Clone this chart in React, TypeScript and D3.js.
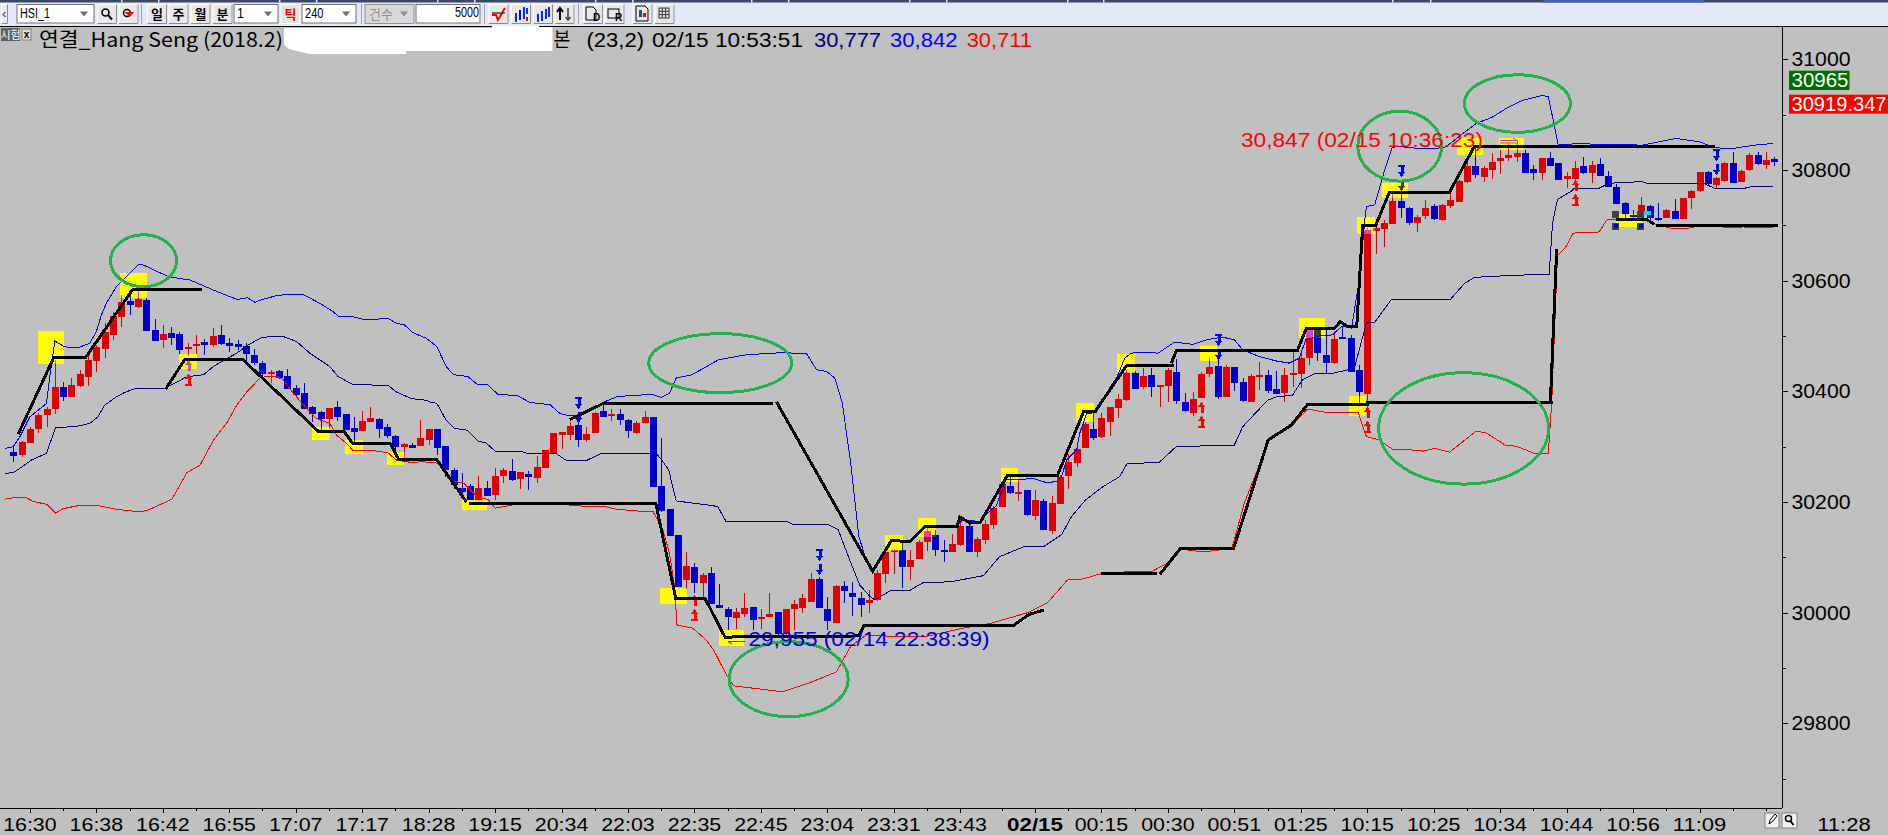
import React from "react";
import * as d3 from "d3";

// ---------- candles (index = bar number) ----------
const bodyTop = [
30290,30308,30332,30357,30368,30407,30408,30411,30431,30457,
30480,30507,30536,30561,30563,30567,30565,30511,30503,30505,
30503,30481,30485,30489,30500,30502,30487,30485,30482,30465,
30451,30435,30437,30428,30406,30397,30372,30363,30370,30372,
30359,30334,30346,30352,30350,30335,30319,30305,30303,30316,
30332,30332,30301,30258,30225,30229,30225,30225,30247,30258,
30256,30254,30251,30263,30294,30325,30327,30337,30339,30323,
30361,30365,30359,30359,30348,30343,30354,30354,30229,30188,
30141,30085,30083,30068,30072,30014,30007,30001,30009,30010,
29992,29998,30001,30007,30016,30027,30061,30061,30007,30048,
30048,30036,30027,30023,30071,30109,30113,30113,30095,30128,
30147,30140,30113,30125,30156,30157,30133,30160,30189,30233,
30229,30219,30222,30204,30202,30198,30246,30272,30296,30341,
30332,30352,30372,30386,30433,30433,30428,30430,30411,30439,
30435,30381,30386,30431,30444,30446,30444,30444,30417,30428,
30430,30430,30404,30430,30433,30460,30511,30511,30466,30495,
30499,30496,30439,30692,30695,30704,30744,30744,30731,30715,
30731,30735,30737,30746,30780,30807,30807,30804,30814,30822,
30827,30831,30831,30802,30822,30822,30813,30789,30804,30807,
30809,30811,30789,30769,30740,30719,30737,30735,30714,30728,
30726,30749,30762,30796,30796,30785,30813,30813,30798,30827,
30827,30818,30820];
const bodyBottom = [
30283,30285,30307,30332,30357,30368,30390,30390,30409,30426,
30455,30476,30502,30534,30556,30552,30509,30491,30493,30496,
30475,30477,30482,30484,30484,30485,30482,30480,30467,30451,
30431,30431,30424,30404,30393,30368,30359,30350,30350,30353,
30330,30326,30328,30344,30332,30319,30299,30300,30297,30301,
30312,30298,30258,30230,30219,30204,30203,30211,30213,30247,
30240,30242,30245,30244,30262,30289,30322,30321,30312,30312,
30325,30354,30357,30348,30328,30325,30343,30227,30184,30139,
30047,30059,30054,30054,30016,30009,29992,29991,29998,29987,
29989,29992,29962,29962,30007,30009,30020,30009,29985,29982,
30039,30029,30014,30018,30023,30070,30110,30083,30083,30097,
30127,30113,30112,30110,30122,30109,30110,30131,30159,30191,
30216,30215,30177,30175,30150,30148,30197,30247,30271,30298,
30316,30318,30345,30370,30384,30404,30408,30408,30408,30410,
30383,30365,30361,30388,30431,30390,30390,30415,30383,30381,
30426,30401,30395,30397,30430,30431,30460,30469,30451,30451,
30496,30435,30399,30396,30690,30693,30702,30731,30704,30704,
30717,30711,30710,30735,30742,30778,30791,30787,30800,30816,
30822,30823,30795,30795,30795,30807,30782,30784,30784,30795,
30795,30789,30769,30738,30720,30718,30719,30713,30710,30713,
30711,30711,30749,30762,30775,30773,30780,30776,30778,30800,
30811,30809,30814];
const highs = [
30300,30311,30336,30360,30372,30456,30416,30425,30438,30465,
30484,30523,30544,30574,30577,30583,30568,30531,30520,30516,
30507,30487,30502,30494,30514,30520,30496,30493,30487,30476,
30455,30438,30438,30441,30411,30415,30373,30364,30370,30382,
30359,30353,30364,30372,30352,30341,30321,30306,30307,30348,
30332,30332,30301,30261,30252,30233,30247,30238,30262,30262,
30278,30254,30256,30283,30294,30325,30327,30345,30360,30336,
30363,30375,30368,30368,30350,30347,30365,30354,30316,30188,
30141,30110,30090,30072,30083,30052,30010,30009,30036,30010,
30007,30036,30001,30007,30023,30034,30072,30065,30029,30050,
30057,30056,30038,30041,30077,30110,30115,30131,30113,30131,
30156,30150,30131,30142,30174,30162,30137,30168,30192,30237,
30246,30240,30222,30222,30206,30210,30249,30287,30309,30345,
30360,30360,30372,30395,30439,30436,30442,30442,30411,30442,
30458,30397,30399,30435,30462,30457,30448,30444,30424,30431,
30453,30439,30437,30442,30471,30472,30511,30511,30511,30508,
30518,30502,30448,30695,30701,30710,30758,30782,30733,30719,
30746,30738,30738,30762,30782,30818,30843,30807,30831,30836,
30848,30854,30836,30809,30822,30832,30813,30796,30816,30823,
30816,30822,30798,30775,30743,30728,30751,30737,30740,30730,
30748,30749,30764,30796,30799,30788,30814,30832,30800,30831,
30832,30832,30823];
const lows = [
30272,30282,30307,30325,30336,30359,30382,30390,30407,30409,
30435,30460,30493,30516,30538,30550,30509,30491,30478,30484,
30467,30464,30467,30465,30480,30484,30471,30475,30454,30447,
30420,30415,30423,30404,30390,30368,30344,30330,30332,30346,
30330,30308,30328,30344,30316,30316,30294,30276,30297,30301,
30303,30285,30246,30224,30213,30204,30201,30211,30204,30234,
30238,30224,30222,30234,30262,30289,30296,30312,30300,30309,
30324,30354,30347,30339,30316,30323,30343,30227,30182,30139,
30047,30043,30036,30027,30016,30009,29969,29971,29992,29969,
29971,29992,29957,29957,29969,29999,30020,30009,29969,29982,
30018,29994,29992,29999,30022,30053,30070,30044,30059,30097,
30112,30103,30091,30110,30121,30109,30101,30125,30152,30191,
30215,30202,30174,30168,30150,30142,30197,30224,30264,30298,
30312,30316,30319,30352,30383,30404,30405,30390,30372,30381,
30377,30363,30355,30388,30426,30387,30389,30401,30381,30381,
30402,30397,30395,30381,30408,30406,30448,30455,30433,30449,
30496,30435,30378,30366,30648,30661,30702,30714,30701,30688,
30711,30710,30708,30731,30742,30776,30785,30778,30784,30793,
30816,30814,30795,30782,30782,30807,30782,30767,30769,30793,
30776,30789,30769,30738,30710,30710,30719,30710,30708,30713,
30711,30711,30729,30761,30773,30767,30778,30776,30778,30798,
30809,30802,30807];
const fallingBars = [0,6,14,16,17,19,20,23,25,26,27,28,29,30,32,33,34,35,36,37,39,40,41,44,45,46,48,51,52,53,54,55,57,60,62,68,71,73,74,77,78,79,80,82,84,85,86,89,92,97,98,100,101,102,107,111,112,115,120,122,124,130,135,137,140,141,145,147,148,151,152,157,158,160,161,162,167,168,171,176,182,183,185,186,189,191,192,193,194,195,197,198,200,204,207,210,212];

// ---------- bands: [bar, price] ----------
const upperBand: [number, number][] = [[-1,30297],[0,30300],[.8,30318],[2,30354],[4,30378],[4.4,30427],[5,30491],[6,30482],[6.8,30479],[8,30480],[9.2,30487],[10,30508],[10.6,30538],[11.2,30559],[12.4,30589],[15.1,30630],[15.7,30628],[18.7,30607],[21.3,30601],[24.1,30583],[26.1,30571],[27,30566],[28.2,30569],[29.1,30561],[30,30566],[31.7,30573],[32.9,30575],[34.9,30575],[36.9,30559],[38.5,30544],[39.1,30536],[40.5,30536],[42.5,30529],[45.1,30532],[46.1,30523],[47.1,30520],[48.1,30506],[49.7,30496],[51,30481],[52.1,30445],[53,30430],[54.7,30427],[55.9,30412],[57.1,30412],[58.3,30395],[60.7,30392],[62.2,30380],[64.6,30376],[65.8,30360],[66.6,30357],[68.2,30357],[69.8,30369],[71,30380],[72.6,30390],[74.6,30393],[77,30394],[78,30389],[79,30397],[79.8,30424],[81.7,30430],[84.9,30457],[88.2,30466],[92.6,30470],[95.5,30468],[96.7,30439],[97.9,30436],[98.9,30424],[99.8,30379],[100.8,30271],[101.8,30137],[102.7,30095],[103.5,30077],[104.3,30099],[105.6,30131],[108,30131],[109.7,30153],[113.6,30157],[114.3,30168],[116.3,30165],[117.7,30186],[118.3,30192],[119.5,30240],[121.1,30240],[122.7,30243],[124.4,30235],[125.6,30237],[126.2,30246],[126.8,30276],[128,30294],[128.4,30325],[129.2,30360],[129.9,30361],[130.8,30372],[132,30406],[132.9,30427],[133.8,30460],[134.6,30469],[136.4,30471],[137.8,30469],[139.8,30489],[142,30485],[143.6,30493],[145.6,30498],[147,30493],[148,30475],[150,30463],[152,30455],[153.6,30451],[154.8,30460],[155.6,30493],[157.2,30500],[158.8,30502],[159.9,30517],[160.4,30517],[161.1,30514],[162.1,30607],[162.7,30710],[162.9,30734],[163.9,30737],[165,30795],[166,30840],[166.7,30843],[168.2,30840],[171,30838],[172.5,30842],[174,30860],[176.1,30884],[178,30895],[179.7,30911],[181.7,30926],[184.1,30935],[184.8,30932],[185.3,30896],[186,30845],[188.5,30848],[190.9,30846],[196.2,30845],[198.2,30851],[200.1,30857],[203,30851],[204.7,30841],[206.6,30838],[209.7,30845],[211.9,30848]];
const middleBand: [number, number][] = [[-1,30252],[0,30253],[.8,30261],[2.2,30276],[4,30288],[5.1,30335],[7.4,30336],[9.2,30342],[10.2,30354],[11,30375],[12.4,30390],[13.4,30398],[14.8,30406],[18.3,30406],[19.5,30415],[20.7,30425],[21.7,30428],[22.9,30430],[24.1,30445],[25.1,30454],[26.9,30469],[28.1,30482],[29.7,30496],[30.9,30499],[32.5,30499],[34.1,30490],[35.7,30469],[36.9,30457],[38.1,30445],[39.1,30427],[40.9,30412],[45.1,30411],[46.1,30399],[47.9,30387],[49.7,30384],[50.1,30381],[51,30378],[52.1,30348],[53.1,30333],[54.6,30330],[56,30309],[56.8,30308],[58,30292],[61,30292],[62,30287],[65.4,30287],[66.6,30275],[69,30275],[70.8,30288],[77.4,30288],[78.2,30273],[78.9,30258],[79.8,30202],[83.4,30195],[84.8,30192],[85.8,30165],[93.1,30165],[93.9,30159],[98.1,30159],[99.3,30150],[100.7,30095],[101.9,30050],[103.1,30030],[103.7,30023],[105.6,30040],[108,30041],[109.5,30054],[112.9,30056],[116.8,30067],[118.7,30101],[121.6,30119],[124,30119],[126.2,30141],[127.4,30174],[129.1,30204],[131.2,30228],[133.2,30246],[134.1,30270],[137.9,30271],[140,30300],[147,30303],[148,30336],[151,30384],[152,30390],[154,30393],[155.2,30421],[156.8,30433],[158.9,30433],[160.7,30439],[161.4,30439],[162.9,30524],[163.9,30525],[165.9,30566],[173,30566],[174.7,30595],[175.9,30606],[179.7,30609],[184.9,30612],[185.3,30704],[185.9,30747],[187.5,30761],[187.9,30767],[190.9,30767],[191.7,30773],[192.1,30776],[196.1,30779],[196.9,30775],[203.6,30775],[204.8,30767],[208.1,30766],[209.3,30770],[211.9,30770]];
const lowerBand: [number, number][] = [[-1,30205],[.4,30209],[1.4,30209],[2.4,30201],[4,30196],[5.1,30180],[6,30188],[8,30194],[10,30194],[12.4,30187],[14.8,30183],[16,30184],[19.1,30205],[20.9,30253],[22.5,30267],[24.1,30312],[25.7,30343],[26.9,30375],[28.1,30399],[29.7,30424],[30.5,30427],[31.7,30427],[32.5,30421],[33.7,30397],[35.3,30369],[36.5,30351],[38.1,30342],[38.9,30321],[40.1,30306],[40.9,30293],[43.3,30293],[45.1,30289],[46.1,30276],[48.1,30271],[49,30273],[51.3,30270],[52.5,30240],[54.2,30234],[55.8,30210],[57.2,30204],[58,30189],[60.2,30195],[62.2,30197],[66.2,30196],[67.8,30193],[71.2,30192],[72.6,30187],[75.8,30183],[77,30183],[78.2,30150],[79,30107],[79.6,30047],[79.9,29978],[81.8,29972],[83.4,29951],[84.3,29933],[85.8,29889],[86.7,29868],[92.6,29857],[95.8,29873],[99.1,29893],[100.8,29939],[102.7,29960],[106.1,29957],[109.9,29957],[114.3,29972],[117.7,29981],[122.1,30000],[124.5,30018],[126.9,30059],[128.8,30061],[130.8,30070],[134.1,30074],[137,30074],[139,30090],[140.4,30115],[143.3,30110],[146.7,30116],[148.2,30198],[150,30267],[151,30311],[153.8,30336],[155.8,30368],[158.4,30361],[161.9,30362],[162.9,30318],[164.3,30313],[166.2,30294],[167.7,30295],[169.8,30292],[171.1,30297],[172.9,30290],[176.1,30328],[177.3,30325],[179.7,30302],[180.9,30301],[183.1,30288],[184.8,30288],[185.2,30379],[185.9,30645],[186.9,30661],[187.8,30686],[190.9,30688],[191.9,30711],[196.4,30711],[197.8,30701],[199.8,30694],[201.4,30694],[202.6,30698],[205,30698],[206.6,30696],[208.2,30697],[211.9,30696]];

// ---------- black stair lines: [bar, price] ----------
const stairLines: [number, number][][] = [
  [[.6,30323],[4.9,30462],[8.75,30462],[14.37,30584],[22.74,30584]],
  [[18.34,30404],[20.66,30458],[27.6,30458],[36.7,30328],[39.8,30328],[40.9,30305],[45.4,30305],[46.4,30277],[50.95,30277],[54.56,30200]],
  [[54.87,30198],[77.34,30198],[79.75,30026],[83.27,30026],[85.68,29956],[101.77,29958],[102.37,29976],[120.4,29977],[122.3,29997],[124.1,30005]],
  [[130.9,30070],[137.7,30070]],
  [[138,30069],[140.5,30116],[146.9,30116],[151.07,30312],[153.84,30339],[155.86,30377],[163,30377],[163,30380],[185.4,30380]],
  [[185.05,30382],[185.8,30657]],
  [[67,30349],[71,30378],[91.46,30378]],
  [[91.87,30381],[103.45,30075],[105.74,30131],[107.95,30128],[109.75,30155],[113.6,30155],[113.96,30173],[115.2,30162],[116.4,30163],[119.66,30248],[125.7,30248],[128.84,30363],[130.5,30363]],
  [[130.2,30363],[134,30446],[139.7,30446]],
  [[139.4,30451],[140,30473],[154.56,30473],[155.64,30513],[159,30513],[159.74,30526],[160.65,30517],[161.73,30517],[162.45,30699],[163.98,30699],[165.67,30760],[172.9,30760],[175.9,30843],[204.86,30843]],
  [[192.95,30711],[196.56,30711],[197.56,30702]],
  [[197.76,30700],[212.4,30700]],
];

// ---------- highlight boxes: [fromBar, toBar, topPrice, bottomPrice] ----------
const yellowBoxes = [
  [2.97,6.1,30509,30449],[12.9,16.04,30614,30569],[19.94,22.1,30468,30440],[35.9,38.1,30336,30312],
  [39.9,42.1,30312,30287],[44.97,47,30290,30267],[54,57,30204,30186],[77.9,81.07,30045,30016],
  [84.9,88,29969,29940],[104.9,107.06,30141,30112],[108.9,111.04,30171,30137],[118.9,121,30262,30236],
  [127.9,130.05,30379,30345],[132.9,135,30467,30435],[142.9,144.96,30482,30455],[154.8,157.96,30533,30496],
  [160.85,162.9,30392,30355],[161.8,163.98,30715,30684],[164.8,167.9,30777,30749],[173.85,176.97,30858,30827],
  [178.8,181.9,30858,30836],[192.96,196.1,30720,30697],
];
// hand-drawn ellipses: [centerBar, centerPrice, radiusBars, radiusPrice]
const greenEllipses = [
  [15.68,30636,3.97,47],[85.1,30451,8.6,53.3],[93.34,29880,7.16,67.8],
  [166.9,30843,5.05,63.2],[181.07,30920,6.38,52],[174.6,30333,10.23,100.6],
];
// signal arrows: anchor is the top of the pair
const buySignals: [number, number][] = [[21,30457],[82,30032],[143,30381],[163,30372],[188,30782]];
const sellSignals: [number, number][] = [[68,30390],[97,30115],[145,30504],[167,30809],[205,30838]];

const timeLabels = ["16:30","16:38","16:42","16:55","17:07","17:17","18:28","19:15","20:34","22:03","22:35","22:45","23:04","23:31","23:43","02/15","00:15","00:30","00:51","01:25","10:15","10:25","10:34","10:44","10:56","11:09"];
const timeLabelBars = [2,10,18,26,34,42,50,58,66,74,82,90,98,106,114,123,131,139,147,155,163,171,179,187,195,203];
const minorTickBars = [6,14,22,30,38,46,54,62,70,78,86,94,102,110,119,127,135,143,151,159,167,175,183,191,199,207,211];
const priceLabels = [31000,30800,30600,30400,30200,30000,29800];
const priceMinor = [30900,30700,30500,30300,30100,29900,29700];

const x = d3.scaleLinear().domain([0, 212]).range([13.3, 1774.3]);
const y = d3.scaleLinear().domain([31000, 29800]).range([59.3, 723.4]);
const RED = "#e00000", BLUE = "#0000cc", BG = "#c0c0c0";
const FONT = "'Liberation Sans', sans-serif";
const KR = "'Noto Sans CJK KR', sans-serif";
const pathOf = d3.line<[number, number]>().x(d => x(d[0])).y(d => y(d[1]));

const falling = new Set(fallingBars);
const boxes = yellowBoxes.map(b => ({ x0: Math.round(x(b[0])), x1: Math.round(x(b[1])), y0: Math.round(y(b[2])), y1: Math.round(y(b[3])) }));

function inBox(px: number, py: number) {
  return boxes.some(b => px >= b.x0 && px <= b.x1 && py >= b.y0 && py <= b.y1);
}

function T({ tx, ty, len, size = 20, fill = "#000", weight = "normal", family = FONT, anchor = "start", children }: any) {
  return (
    <text x={tx} y={ty} fontSize={size} fill={fill} fontWeight={weight} fontFamily={family} textAnchor={anchor}
      textLength={len} lengthAdjust={len ? "spacingAndGlyphs" : undefined}>{children}</text>
  );
}

function Candles() {
  return (
    <g shapeRendering="crispEdges">
      {bodyTop.map((t, i) => {
        const cx = Math.round(x(i));
        const yt = Math.round(y(t));
        const yb = Math.max(Math.round(y(bodyBottom[i])), yt + 2);
        const c = falling.has(i) ? BLUE : RED;
        return (
          <g key={i}>
            <rect x={cx} y={Math.round(y(highs[i]))} width={1} height={Math.max(1, Math.round(y(lows[i])) - Math.round(y(highs[i])))} fill={c} />
            <rect x={cx - 3} y={yt} width={7} height={yb - yt} fill={c} />
          </g>
        );
      })}
    </g>
  );
}

// where a candle lies over a highlight box the old screen mixes the colours
function CandleBoxMix() {
  const out: React.ReactNode[] = [];
  bodyTop.forEach((t, i) => {
    const cx = Math.round(x(i));
    const c = falling.has(i) ? "#404018" : "#e040c0";
    boxes.forEach((b, k) => {
      if (cx + 3 < b.x0 || cx - 3 > b.x1) return;
      const y0 = Math.max(Math.round(y(t)), b.y0), y1 = Math.min(Math.round(y(bodyBottom[i])), b.y1);
      if (y1 > y0) out.push(<rect key={`b${i}-${k}`} x={Math.max(cx - 3, b.x0)} y={y0} width={Math.min(cx + 4, b.x1) - Math.max(cx - 3, b.x0)} height={y1 - y0} fill={c} />);
      const w0 = Math.max(Math.round(y(highs[i])), b.y0), w1 = Math.min(Math.round(y(lows[i])), b.y1);
      if (w1 > w0 && cx >= b.x0 && cx <= b.x1) out.push(<rect key={`w${i}-${k}`} x={cx} y={w0} width={1} height={w1 - w0} fill={c} />);
    });
  });
  return <g shapeRendering="crispEdges">{out}</g>;
}

function UpArrow({ cx, top, foot, color }: any) {
  return (
    <g fill={color} shapeRendering="crispEdges">
      <path d={`M${cx + 0.5} ${top}L${cx + 4} ${top + 4.5}L${cx - 3} ${top + 4.5}Z`} />
      <rect x={cx - 0.5} y={top + 4} width={3} height={7} />
      {foot && <rect x={cx - 3} y={top + 10} width={7} height={2} />}
    </g>
  );
}
function DownArrow({ cx, top, bar, color }: any) {
  return (
    <g fill={color} shapeRendering="crispEdges">
      {bar && <rect x={cx - 3} y={top} width={7} height={2} />}
      <rect x={cx - 0.5} y={top + 1} width={3} height={7} />
      <path d={`M${cx + 0.5} ${top + 12}L${cx + 4} ${top + 7}L${cx - 3} ${top + 7}Z`} />
    </g>
  );
}
function Signals() {
  return (
    <g>
      {buySignals.map(([b, p]) => {
        const cx = Math.round(x(b)), top = Math.round(y(p));
        return (
          <g key={b}>
            <UpArrow cx={cx} top={top} color={inBox(cx, top + 5) ? "#c050c8" : "#ff0000"} />
            <UpArrow cx={cx} top={top + 14} foot color="#ff0000" />
          </g>
        );
      })}
      {sellSignals.map(([b, p]) => {
        const cx = Math.round(x(b)), top = Math.round(y(p));
        return (
          <g key={b}>
            <DownArrow cx={cx} top={top} bar color="#0000ff" />
            <DownArrow cx={cx} top={top + 14} color={inBox(cx, top + 20) ? "#404040" : "#0000ff"} />
          </g>
        );
      })}
    </g>
  );
}

function Btn({ x0, w, children }: any) {
  return (
    <g>
      <rect x={x0} y={4.5} width={w} height={19} fill="#e8e8e8" stroke="#ffffff" />
      <path d={`M${x0 + w} ${4.5}V${23.5}H${x0}`} fill="none" stroke="#8a8a8a" />
      {children}
    </g>
  );
}
function Combo({ x0, w, label, color = "#000", fill = "#fff", right = false }: any) {
  return (
    <g>
      <rect x={x0} y={4.5} width={w} height={18.5} fill={fill} stroke="#707070" />
      {label && <T tx={x0 + 3} ty={18} size={14} fill={color} len={label.length * 5.8 + 1}>{label}</T>}
      {!right && <path d={`M${x0 + w - 14} 11.5h8l-4 5z`} fill="#707070" />}
    </g>
  );
}

function Toolbar() {
  const letter = (x0: number, s: string, fill = "#000") => (
    <Btn x0={x0} w={19} key={x0}><T tx={x0 + 9.5} ty={19} size={13} weight="bold" family={KR} anchor="middle" fill={fill}>{s}</T></Btn>
  );
  return (
    <g>
      <rect x={0} y={0} width={1888} height={27} fill="#e3e9f8" />
      <rect x={0} y={0} width={1888} height={2.5} fill="#3c4668" />
      <rect x={1543} y={0} width={161} height={2.5} fill="#4060a8" />
      {[121, 158, 279, 316, 437, 474, 595, 632, 751, 788, 909, 946, 1067, 1103, 1392, 1430].map(v => (
        <rect key={v} x={v} y={0} width={1.5} height={2.5} fill="#e3e9f8" />
      ))}
      <rect x={0} y={26} width={1888} height={1} fill="#000" />
      <Btn x0={1.5} w={6}><path d="M5.5 12l-2.5 2.5l2.5 2.5" fill="none" stroke="#000" /></Btn>
      <Combo x0={17} w={77} label="HSI_1" />
      <Btn x0={97.5} w={19}>
        <circle cx={105.5} cy={12.5} r={3.5} fill="none" stroke="#000" strokeWidth={1.6} />
        <path d="M108 15l4 4.5" stroke="#000" strokeWidth={2} />
      </Btn>
      <Btn x0={119} w={19}>
        <circle cx={127} cy={13} r={3.5} fill="none" stroke="#000" strokeWidth={1.4} />
        <path d="M124 12h10l-4 5l-2-2z" fill="#ff0000" />
      </Btn>
      {letter(147.5, "일")}
      {letter(169, "주")}
      {letter(191, "월")}
      {letter(213, "분")}
      <Combo x0={234} w={44} label="1" />
      <rect x={281} y={4.5} width={19} height={19} fill="#dfeadf" stroke="#ffffff" />
      <T tx={290.5} ty={19} size={13} weight="bold" family={KR} anchor="middle" fill="#ff0000">틱</T>
      <Combo x0={302} w={54} label="240" />
      <rect x={365} y={4.5} width={49} height={19} fill="#d8d8d8" stroke="#909090" />
      <T tx={369} ty={18.5} size={13} family={KR} fill="#909090">건수</T>
      <path d="M400 11.5h8l-4 5z" fill="#909090" />
      <rect x={416} y={4.5} width={64} height={18.5} fill="#fff" stroke="#707070" />
      <T tx={479} ty={17} size={14} anchor="end" len={24}>5000</T>
      {[141, 361, 484, 578].map(v => <rect key={v} x={v} y={4} width={1} height={20} fill="#a0a0a0" />)}
      <Btn x0={489} w={19}><path d="M492 15h4l2 5l7-12" fill="none" stroke="#ff0000" strokeWidth={2} /><path d="M492 13h13" stroke="#404040" strokeWidth={1.5} /></Btn>
      <Btn x0={511.5} w={19}>
        {[515, 519, 523, 526].map((v, k) => <rect key={v} x={v} y={[13, 10, 7, 8][k]} width={2} height={[9, 10, 12, 6][k]} fill={k === 1 ? "#0000ff" : "#0030e0"} />)}
        <rect x={526} y={17} width={2} height={4} fill="#ff0000" />
      </Btn>
      <Btn x0={533.5} w={19}>
        {[537, 541, 545, 548].map((v, k) => <rect key={v} x={v} y={[14, 11, 9, 7][k]} width={2} height={[8, 10, 10, 10][k]} fill="#0030e0" />)}
      </Btn>
      <Btn x0={555} w={19}>
        <path d="M560 20V9M557 12l3-4l3 4" fill="none" stroke="#000" strokeWidth={2} />
        <path d="M568 8v12M565.5 17l2.5 3l2.5-3" fill="none" stroke="#404040" strokeWidth={1.5} />
      </Btn>
      <Btn x0={583.4} w={19}>
        <path d="M586 7h7l3 3v10h-10z" fill="none" stroke="#000" />
        <T tx={593} ty={21} size={10} weight="bold">D</T>
      </Btn>
      <Btn x0={605} w={19}>
        <rect x={608} y={9} width={11} height={9} fill="none" stroke="#000" />
        <T tx={615} ty={21} size={10} weight="bold">R</T>
      </Btn>
      <Btn x0={633} w={19}>
        <path d="M636 6h9l3 3v12h-12z" fill="none" stroke="#000" />
        <rect x={639} y={10} width={3} height={7} fill="#006080" />
        <rect x={643} y={13} width={3} height={4} fill="#ff0000" />
      </Btn>
      <Btn x0={655} w={19}>
        <rect x={659} y={8} width={10} height={10} fill="none" stroke="#303030" />
        <path d="M659 11.3h10M659 14.6h10M662.3 8v10M665.6 8v10" stroke="#303030" />
      </Btn>
    </g>
  );
}

function Header() {
  return (
    <g>
      <rect x={1} y={28} width={19} height={13} fill="#606060" />
      <T tx={10.5} ty={38.5} size={11} fill="#fff" family={KR} anchor="middle">시험</T>
      <rect x={22} y={29} width={9} height={11} fill="#e0e0e0" stroke="#808080" />
      <T tx={26.5} ty={38} size={10} weight="bold" anchor="middle">x</T>
      <T tx={39} ty={46.5} family={KR} len={244}>연결_Hang Seng (2018.2)</T>
      <path d="M284 28H492V26H539V27H552.5V51H406V54H309L289 49L284 45Z" fill="#fff" />
      <T tx={553.5} ty={46.5} family={KR} len={17}>본</T>
      <T tx={586.5} ty={46.5} len={57.5}>(23,2)</T>
      <T tx={652} ty={46.5} len={151}>02/15 10:53:51</T>
      <T tx={814} ty={46.5} len={67} fill="#000080">30,777</T>
      <T tx={890} ty={46.5} len={67.5} fill="#0000ff">30,842</T>
      <T tx={966.7} ty={46.5} len={65.3} fill="#ff0000">30,711</T>
    </g>
  );
}

function Axes() {
  return (
    <g>
      <g shapeRendering="crispEdges">
        <rect x={1781.5} y={27} width={1} height={781} fill="#000" />
        <rect x={0} y={808} width={1782} height={1} fill="#000" />
        {priceLabels.map(p => <rect key={p} x={1782} y={Math.round(y(p))} width={6} height={1} fill="#000" />)}
        {priceMinor.map(p => <rect key={p} x={1782} y={Math.round(y(p))} width={4} height={1} fill="#000" />)}
        {timeLabelBars.map(b => <rect key={b} x={Math.round(x(b))} y={808} width={1} height={5} fill="#000" />)}
        {minorTickBars.map(b => <rect key={b} x={Math.round(x(b))} y={808} width={1} height={3} fill="#000" />)}
      </g>
      {priceLabels.map(p => (
        <T key={p} tx={1791.5} ty={y(p) + 7} len={59}>{p}</T>
      ))}
      {timeLabels.map((t, k) => (
        <T key={t} tx={x(timeLabelBars[k])} ty={830.7} size={18.5} len={t === "02/15" ? 56 : 53.5} anchor="middle" weight={t === "02/15" ? "bold" : "normal"}>{t}</T>
      ))}
      <T tx={1844} ty={830.7} size={18.5} len={53.5} anchor="middle">11:28</T>
      <rect x={1789} y={70.7} width={60.5} height={19.3} fill="#007000" />
      <T tx={1791.5} ty={87.3} len={57} fill="#fff">30965</T>
      <rect x={1789} y={94.7} width={99} height={19} fill="#ff0000" />
      <T tx={1791.5} ty={111} len={95} fill="#fff">30919.347</T>
      <rect x={1765} y={813} width={14} height={15} fill="#f0f0f0" stroke="#808080" />
      <path d="M1769 824l1-4l5-6l2 2l-5 6z" fill="none" stroke="#000" />
      <rect x={1782} y={813} width={15} height={15} fill="#f0f0f0" stroke="#808080" />
      <circle cx={1788.5} cy={818.5} r={3} fill="none" stroke="#000" strokeWidth={1.5} />
      <path d="M1790.5 821l3 4" stroke="#000" strokeWidth={2} />
    </g>
  );
}

export default function App() {
  const bx0 = Math.round(x(192.96)), bx1 = Math.round(x(196.1));
  const by0 = Math.round(y(30720));
  return (
    <svg width={1888} height={835} viewBox="0 0 1888 835" style={{ position: "absolute", left: 0, top: 0, display: "block" }}>
      <rect x={0} y={0} width={1888} height={835} fill={BG} />
      <g shapeRendering="crispEdges">
        {boxes.map((b, i) => <rect key={i} x={b.x0} y={b.y0} width={b.x1 - b.x0} height={b.y1 - b.y0} fill="#ffff00" />)}
      </g>
      <Candles />
      <CandleBoxMix />
      <g fill="none" strokeWidth={1} shapeRendering="crispEdges">
        <path d={pathOf(lowerBand) || ""} stroke="#ff0000" />
        <path d={pathOf(middleBand) || ""} stroke="#000080" />
        <path d={pathOf(upperBand) || ""} stroke="#0000ff" />
      </g>
      <Signals />
      <g fill="none" stroke="#000" strokeWidth={3} strokeLinejoin="miter" shapeRendering="crispEdges">
        {stairLines.map((l, i) => <path key={i} d={pathOf(l) || ""} />)}
      </g>
      {/* selected-object handles */}
      <g shapeRendering="crispEdges">
        <rect x={bx1 + 2} y={by0 - 3} width={7} height={4} fill="#00e0e0" />
        {[bx0 - 4, bx1 - 5].map(v => [by0 - 3, by0 + 9].map(w => (
          <g key={`${v}-${w}`}>
            <rect x={v} y={w} width={7} height={7} fill="#404040" />
            {w > by0 && <rect x={v + 2} y={w + 1} width={4} height={4} fill="#0000e0" />}
          </g>
        )))}
      </g>
      <g fill="none" stroke="#22b14c" strokeWidth={3} shapeRendering="crispEdges">
        {greenEllipses.map((e, i) => (
          <ellipse key={i} cx={x(e[0])} cy={y(e[1])} rx={x(e[2]) - x(0)} ry={y(30000 - e[3]) - y(30000)} />
        ))}
      </g>
      <T tx={1241} ty={146.5} len={242} fill="#ff0000">30,847 (02/15 10:36:23)</T>
      <path d="M1500 140.5h17l-4-2.5M1500 143h17" fill="none" stroke="#d040c0" />
      <T tx={748.5} ty={646} len={241} fill="#0000cc">29,955 (02/14 22:38:39)</T>
      <path d="M728 641.5h17M728 641.5l4 2.5" fill="none" stroke="#404020" />
      <Toolbar />
      <Header />
      <Axes />
    </svg>
  );
}
